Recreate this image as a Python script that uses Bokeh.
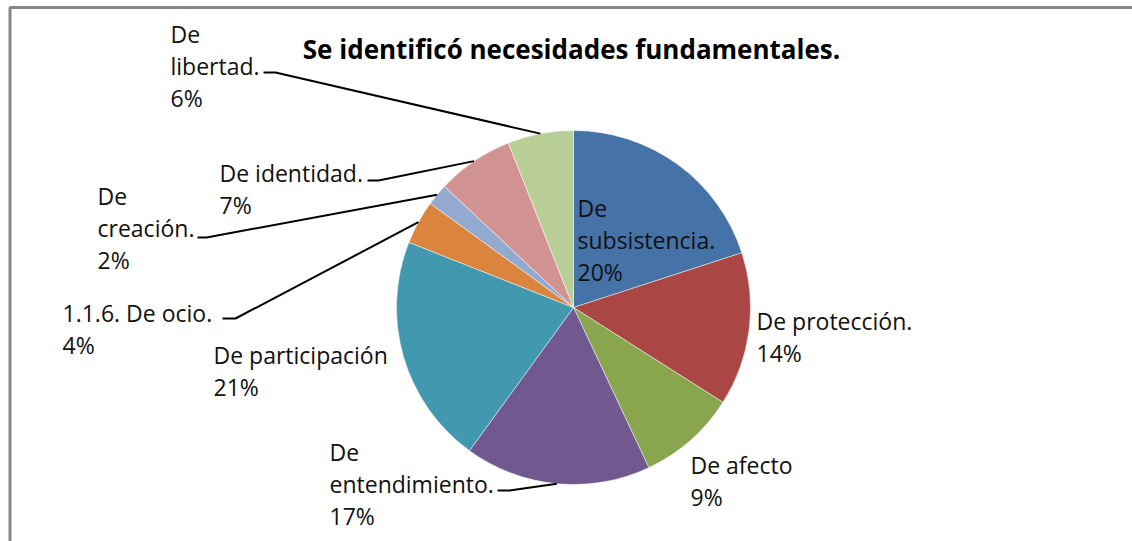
import math
from bokeh.plotting import figure
from bokeh.models import ColumnDataSource, Range1d
from bokeh.core.properties import value
from bokeh.embed import file_html
from bokeh.resources import INLINE

# ---- data ----
categories = ["De subsistencia.", "De protección.", "De afecto", "De entendimiento.",
              "De participación", "1.1.6. De ocio.", "De creación.", "De identidad.", "De libertad."]
percent = [20, 14, 9, 17, 21, 4, 2, 7, 6]
label_lines = [["De", "subsistencia."], ["De protección."], ["De afecto"], ["De", "entendimiento."],
               ["De participación"], ["1.1.6. De ocio."], ["De", "creación."], ["De identidad."],
               ["De", "libertad."]]
title = "Se identificó necesidades fundamentales."
colors = ["#4572A7", "#AA4643", "#89A54E", "#71588F", "#4198AF",
          "#DB843D", "#93A9CF", "#D19392", "#B9CD96"]

# ---- layout (page pixel coordinates) ----
W, H = 1132, 541
def px(x):
    return x
def py(y):
    return H - y

TEXT_SHIFT = -8  # renderer baseline correction
CX, CY, R = 573, 307, 177
LINE_H = 32
# first-line left/baseline of each label
label_pos = [(577, 215), (756, 328), (690, 472), (329, 459), (213, 362),
             (62, 320), (97, 203), (219, 180), (170, 41)]
# leader lines: (stub start x, stub end x, stub y) or None
leaders = [None, None, None, (497, 509, 490), None, (222, 235, 318),
           (197, 206, 237), (367, 378, 180), (263, 275, 72)]

p = figure(width=W, height=H, output_backend="svg", toolbar_location=None,
           x_range=Range1d(0, W), y_range=Range1d(0, H), min_border=0)
p.axis.visible = False
p.grid.visible = False
p.outline_line_color = None
p.background_fill_color = "white"
p.border_fill_color = "white"

total = float(sum(percent))
starts, ends, mids = [], [], []
acc = 0.0
for v in percent:
    f0 = acc / total
    acc += v
    f1 = acc / total
    starts.append(math.pi / 2 - 2 * math.pi * f1)
    ends.append(math.pi / 2 - 2 * math.pi * f0)
    mids.append(math.pi / 2 - 2 * math.pi * (f0 + f1) / 2)

src = ColumnDataSource(dict(x=[px(CX)] * len(percent), y=[py(CY)] * len(percent),
                            start=starts, end=ends, color=colors, name=categories,
                            value=percent))
p.wedge(x="x", y="y", radius=R, start_angle="start", end_angle="end",
        direction="anticlock", fill_color="color", line_color="white",
        line_alpha=0.6, line_width=0.8, source=src)

# leader lines
for i, ld in enumerate(leaders):
    if ld is None:
        continue
    x0, x1, yy = ld
    ex = CX + R * math.cos(mids[i])
    ey = CY - R * math.sin(mids[i])
    p.line([px(x0), px(x1), px(ex)], [py(yy), py(yy), py(ey)],
           line_color="black", line_width=2)

# labels
tx, ty, tt = [], [], []
for i, lines in enumerate(label_lines):
    lx, ly = label_pos[i]
    for k, s in enumerate(lines + [f"{percent[i]}%"]):
        tx.append(px(lx))
        ty.append(py(ly + k * LINE_H + TEXT_SHIFT))
        tt.append(s)
p.text(x=tx, y=ty, text=tt, text_font=value("Open Sans"), text_font_size="23px",
       text_color="#111111", text_baseline="alphabetic", text_align="left")

# title
p.text(x=[px(571)], y=[py(56 + TEXT_SHIFT)], text=[title], text_font=value("Open Sans"),
       text_font_size="26px", text_font_style="bold", text_color="black",
       text_baseline="alphabetic", text_align="center")

# chart-area border (left and top edges visible)
p.line([px(9.5), px(9.5), W + 10], [-5, py(7), py(7)], line_color="#868686", line_width=3)

open("out.html", "w").write(file_html(p, INLINE))
